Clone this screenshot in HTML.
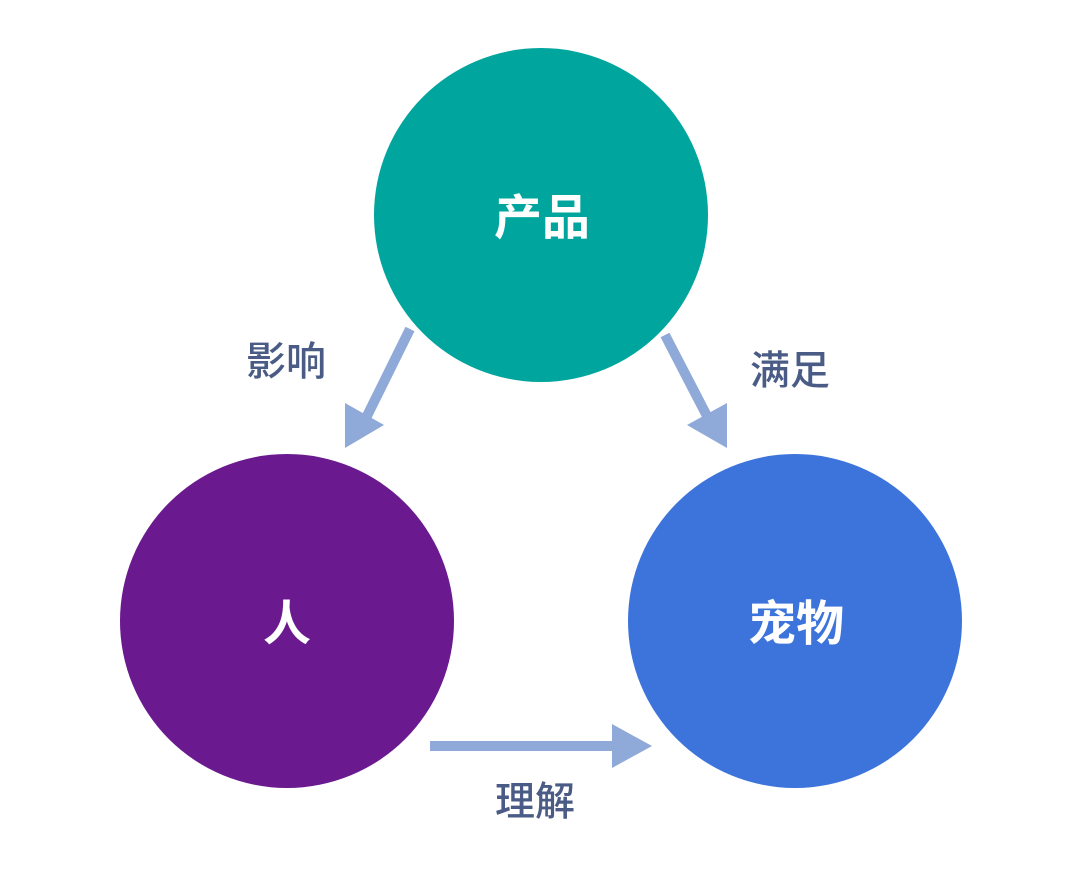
<!DOCTYPE html>
<html><head><meta charset="utf-8"><style>
html,body{margin:0;padding:0;background:#fff;width:1080px;height:872px;overflow:hidden}
text{font-family:"Liberation Sans","Noto Sans CJK SC",sans-serif}
</style></head><body>
<svg width="1080" height="872" viewBox="0 0 1080 872" xmlns="http://www.w3.org/2000/svg">
<circle cx="541" cy="215" r="167" fill="#00A59E"/>
<circle cx="287" cy="621" r="167" fill="#6A198E"/>
<circle cx="795" cy="621" r="167" fill="#3D74DB"/>
<g fill="#8FA9D8" stroke="none">
<line x1="410" y1="329" x2="366" y2="418" stroke="#8FA9D8" stroke-width="10"/>
<polygon points="345,403 384,425 345,448"/>
<line x1="665" y1="335" x2="708" y2="418" stroke="#8FA9D8" stroke-width="10"/>
<polygon points="727,403 687,425 727,448"/>
<line x1="430" y1="746" x2="620" y2="746" stroke="#8FA9D8" stroke-width="10"/>
<polygon points="612,724 652,746 612,768"/>
</g>
<g fill="#fff" font-weight="bold" font-size="48" text-anchor="middle">
<text x="542" y="234">产品</text>
<text x="287" y="640">人</text>
<text x="796" y="640">宠物</text>
</g>
<g fill="#4A5C85" font-size="40" font-weight="500" text-anchor="middle">
<text x="286" y="375">影响</text>
<text x="790" y="384">满足</text>
<text x="535" y="815">理解</text>
</g>
</svg>
</body></html>
